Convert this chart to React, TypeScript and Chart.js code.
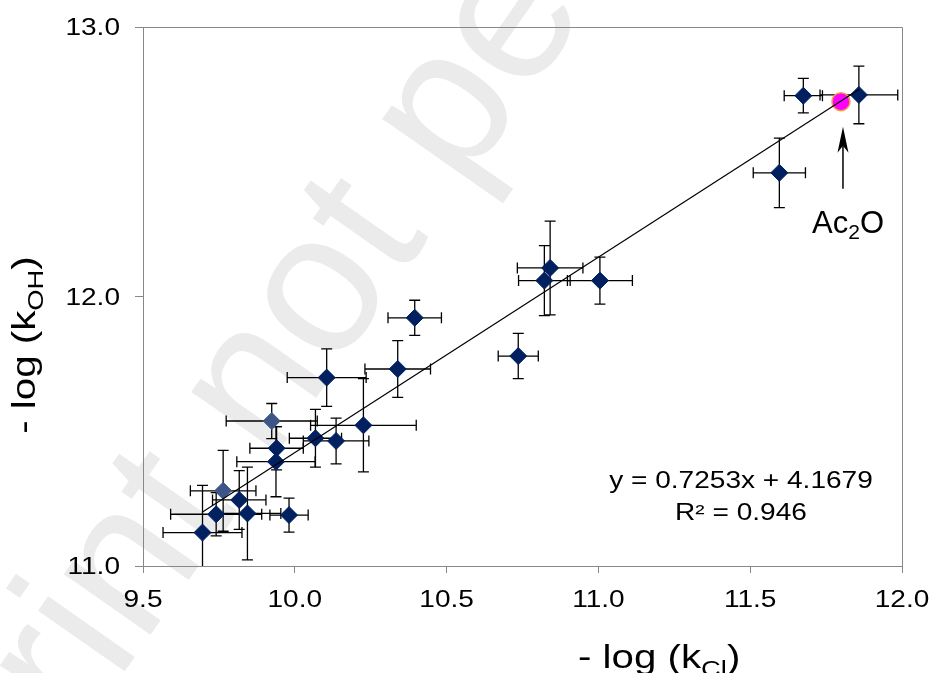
import React, { useEffect, useRef } from "react";
import { Chart, registerables } from "chart.js";

Chart.register(...registerables);

// ---- data ----
const darkX = [9.696, 9.741, 9.817, 9.844, 9.981, 9.938, 9.94, 10.068, 10.136, 10.226, 10.105, 10.339, 10.395, 10.736, 10.822, 10.841, 11.005, 11.596, 11.675, 11.858];
const darkY = [11.124, 11.192, 11.245, 11.195, 11.189, 11.387, 11.437, 11.474, 11.464, 11.522, 11.699, 11.731, 11.921, 11.779, 12.059, 12.106, 12.059, 12.459, 12.745, 12.748];
const darkXErr = [0.13, 0.15, 0.088, 0.11, 0.063, 0.129, 0.088, 0.086, 0.108, 0.174, 0.13, 0.108, 0.088, 0.066, 0.085, 0.108, 0.107, 0.086, 0.063, 0.128];
const darkYErr = [0.175, 0.08, 0.109, 0.172, 0.063, 0.13, 0.08, 0.107, 0.085, 0.173, 0.107, 0.105, 0.065, 0.084, 0.13, 0.174, 0.087, 0.129, 0.064, 0.107];

const lightX = [9.764, 9.924];
const lightY = [11.279, 11.538];
const lightXErr = [0.108, 0.15];
const lightYErr = [0.15, 0.065];

const ac2oX = [11.799];
const ac2oY = [12.723];
const ac2oLabel = "Ac2O";

const SLOPE = 0.7253;
const INTERCEPT = 4.1679;
const R2 = 0.946;

const xTickValues = [9.5, 10.0, 10.5, 11.0, 11.5, 12.0];
const yTickValues = [11.0, 12.0, 13.0];

const FONT = '"Liberation Sans", Arial, sans-serif';
const SX = 1.22; // horizontal stretch of the reference's lettering

type Part = { text: string; sub?: boolean; sup?: boolean };

function drawRich(
  ctx: CanvasRenderingContext2D,
  parts: Part[],
  x: number,
  y: number,
  size: number,
  sx: number,
  align: "left" | "center" | "right",
  rotation = 0,
  subScale = 0.68,
  subShift = 0.24
) {
  ctx.save();
  ctx.translate(x, y);
  ctx.rotate(rotation);
  ctx.scale(sx, 1);
  const widths = parts.map((p) => {
    ctx.font = `${p.sub ? size * subScale : size}px ${FONT}`;
    return ctx.measureText(p.text).width;
  });
  const total = widths.reduce((a, b) => a + b, 0);
  let cx = align === "left" ? 0 : align === "center" ? -total / 2 : -total;
  ctx.textAlign = "left";
  ctx.textBaseline = "alphabetic";
  ctx.fillStyle = "#000";
  parts.forEach((p, i) => {
    ctx.font = `${p.sub ? size * subScale : size}px ${FONT}`;
    ctx.fillText(p.text, cx, p.sub ? size * subShift : 0);
    cx += widths[i];
  });
  ctx.restore();
}

const errorBarPlugin = {
  id: "errorBars",
  beforeDatasetsDraw(chart: any) {
    const { ctx, chartArea, scales } = chart;
    const xs = scales.x;
    const ys = scales.y;
    ctx.save();
    ctx.beginPath();
    ctx.rect(chartArea.left, chartArea.top, chartArea.right - chartArea.left, chartArea.bottom - chartArea.top);
    ctx.clip();
    ctx.strokeStyle = "#000";
    ctx.lineWidth = 1.3;
    const cap = 5.5;
    chart.data.datasets.forEach((ds: any) => {
      if (!ds.errX) return;
      ds.data.forEach((p: any, j: number) => {
        const cx = xs.getPixelForValue(p.x);
        const cy = ys.getPixelForValue(p.y);
        const xl = xs.getPixelForValue(p.x - ds.errX[j]);
        const xr = xs.getPixelForValue(p.x + ds.errX[j]);
        const yt = ys.getPixelForValue(p.y + ds.errY[j]);
        const yb = ys.getPixelForValue(p.y - ds.errY[j]);
        ctx.beginPath();
        ctx.moveTo(xl, cy);
        ctx.lineTo(xr, cy);
        ctx.moveTo(xl, cy - cap);
        ctx.lineTo(xl, cy + cap);
        ctx.moveTo(xr, cy - cap);
        ctx.lineTo(xr, cy + cap);
        ctx.moveTo(cx, yt);
        ctx.lineTo(cx, yb);
        ctx.moveTo(cx - cap, yt);
        ctx.lineTo(cx + cap, yt);
        ctx.moveTo(cx - cap, yb);
        ctx.lineTo(cx + cap, yb);
        ctx.stroke();
      });
    });
    ctx.restore();
  },
};

const decorPlugin = {
  id: "decor",
  beforeDraw(chart: any) {
    const { ctx, width, height } = chart;
    ctx.save();
    ctx.fillStyle = "#fff";
    ctx.fillRect(0, 0, width, height);
    // faint watermark behind the chart
    ctx.translate(15, 828);
    ctx.rotate((-55 * Math.PI) / 180);
    ctx.font = `200px ${FONT}`;
    ctx.fillStyle = "#ebebeb";
    ctx.textBaseline = "alphabetic";
    ctx.fillText("print not pe", 0, 0);
    ctx.restore();
  },
  afterDraw(chart: any) {
    const { ctx, chartArea, scales } = chart;
    const xs = scales.x;
    const ys = scales.y;
    ctx.save();
    // frame (top and right edges)
    ctx.strokeStyle = "#888";
    ctx.lineWidth = 1;
    ctx.beginPath();
    ctx.moveTo(Math.round(chartArea.left) + 0.5, Math.round(chartArea.top) + 0.5);
    ctx.lineTo(Math.round(chartArea.right) + 0.5, Math.round(chartArea.top) + 0.5);
    ctx.lineTo(Math.round(chartArea.right) + 0.5, Math.round(chartArea.bottom) + 0.5);
    ctx.stroke();

    // tick labels
    const fs = 23;
    xs.ticks.forEach((t: any) => {
      const px = xs.getPixelForValue(t.value);
      drawRich(ctx, [{ text: t.value.toFixed(1) }], px, chartArea.bottom + 41, fs, SX, "center");
    });
    ys.ticks.forEach((t: any) => {
      const py = ys.getPixelForValue(t.value);
      drawRich(ctx, [{ text: t.value.toFixed(1) }], chartArea.left - 23, py + 8.2, fs, SX, "right");
    });

    // axis titles
    drawRich(ctx, [{ text: "- log (k" }, { text: "Cl", sub: true }, { text: ")" }], 578, 668, 33, SX, "left");
    drawRich(
      ctx,
      [{ text: "- log (k" }, { text: "OH", sub: true }, { text: ")" }],
      35,
      345,
      33,
      SX,
      "center",
      -Math.PI / 2
    );

    // regression equation
    drawRich(ctx, [{ text: `y = ${SLOPE.toFixed(4)}x + ${INTERCEPT.toFixed(4)}` }], 741, 488, 23, SX, "center");
    drawRich(ctx, [{ text: `R² = ${R2.toFixed(3)}` }], 741, 520, 23, SX, "center");

    // Ac2O arrow and label
    const ax = xs.getPixelForValue(ac2oX[0]) + 2;
    const ay = ys.getPixelForValue(ac2oY[0]);
    const tipY = ay + 25;
    ctx.strokeStyle = "#000";
    ctx.fillStyle = "#000";
    ctx.lineWidth = 1.5;
    ctx.beginPath();
    ctx.moveTo(ax, tipY + 62);
    ctx.lineTo(ax, tipY + 12);
    ctx.stroke();
    ctx.beginPath();
    ctx.moveTo(ax, tipY);
    ctx.lineTo(ax + 5.5, tipY + 26);
    ctx.lineTo(ax, tipY + 19);
    ctx.lineTo(ax - 5.5, tipY + 26);
    ctx.closePath();
    ctx.fill();
    ctx.restore();
    drawRich(
      ctx,
      [{ text: ac2oLabel.slice(0, 2) }, { text: ac2oLabel.slice(2, 3), sub: true }, { text: ac2oLabel.slice(3) }],
      ax - 31,
      ay + 131,
      31,
      1,
      "left",
      0,
      0.68,
      0.22
    );
  },
};

export default function App() {
  const ref = useRef<HTMLCanvasElement | null>(null);

  useEffect(() => {
    document.body.style.margin = "0";
    const canvas = ref.current;
    if (!canvas) return;

    const allX = [...darkX, ...lightX];
    const xMin = Math.min(...allX);
    const xMax = Math.max(...allX);
    const trend = [xMin, xMax].map((x) => ({ x, y: SLOPE * x + INTERCEPT }));

    const chart = new Chart(canvas, {
      type: "scatter",
      data: {
        datasets: [
          {
            label: "trend",
            type: "line",
            data: trend,
            borderColor: "#000",
            borderWidth: 1.2,
            pointRadius: 0,
            fill: false,
          } as any,
          {
            label: "Ac2O",
            data: ac2oX.map((x, i) => ({ x, y: ac2oY[i] })),
            pointStyle: "circle",
            pointRadius: 9,
            backgroundColor: "#ff00ff",
            borderColor: "#f0a040",
            borderWidth: 1.5,
          },
          {
            label: "dark",
            data: darkX.map((x, i) => ({ x, y: darkY[i] })),
            errX: darkXErr,
            errY: darkYErr,
            pointStyle: "rectRot",
            pointRadius: 8.5,
            backgroundColor: "#002060",
            borderColor: "#002060",
            borderWidth: 1,
          } as any,
          {
            label: "light",
            data: lightX.map((x, i) => ({ x, y: lightY[i] })),
            errX: lightXErr,
            errY: lightYErr,
            pointStyle: "rectRot",
            pointRadius: 8.5,
            backgroundColor: "#3d5687",
            borderColor: "#3d5687",
            borderWidth: 1,
          } as any,
        ],
      },
      options: {
        animation: false,
        responsive: false,
        devicePixelRatio: 1,
        layout: { padding: { top: 27, right: 30, left: 0, bottom: 0 } },
        plugins: { legend: { display: false }, tooltip: { enabled: false } },
        scales: {
          x: {
            type: "linear",
            min: 9.5,
            max: 12,
            afterBuildTicks: (s: any) => {
              s.ticks = xTickValues.map((value) => ({ value }));
            },
            afterFit: (s: any) => {
              s.height = 107;
            },
            ticks: { display: false },
            grid: { display: true, drawOnChartArea: false, drawTicks: true, tickLength: 7, color: "#888", lineWidth: 1 },
            border: { display: true, color: "#888", width: 1 },
          },
          y: {
            type: "linear",
            min: 11,
            max: 13,
            afterBuildTicks: (s: any) => {
              s.ticks = yTickValues.map((value) => ({ value }));
            },
            afterFit: (s: any) => {
              s.width = 143;
            },
            ticks: { display: false },
            grid: { display: true, drawOnChartArea: false, drawTicks: true, tickLength: 8, color: "#888", lineWidth: 1 },
            border: { display: true, color: "#888", width: 1 },
          },
        },
      },
      plugins: [errorBarPlugin, decorPlugin],
    });

    return () => chart.destroy();
  }, []);

  return (
    <div style={{ width: 932, height: 673, position: "relative", overflow: "hidden" }}>
      <canvas ref={ref} width={932} height={673} style={{ display: "block", width: 932, height: 673 }} />
    </div>
  );
}
